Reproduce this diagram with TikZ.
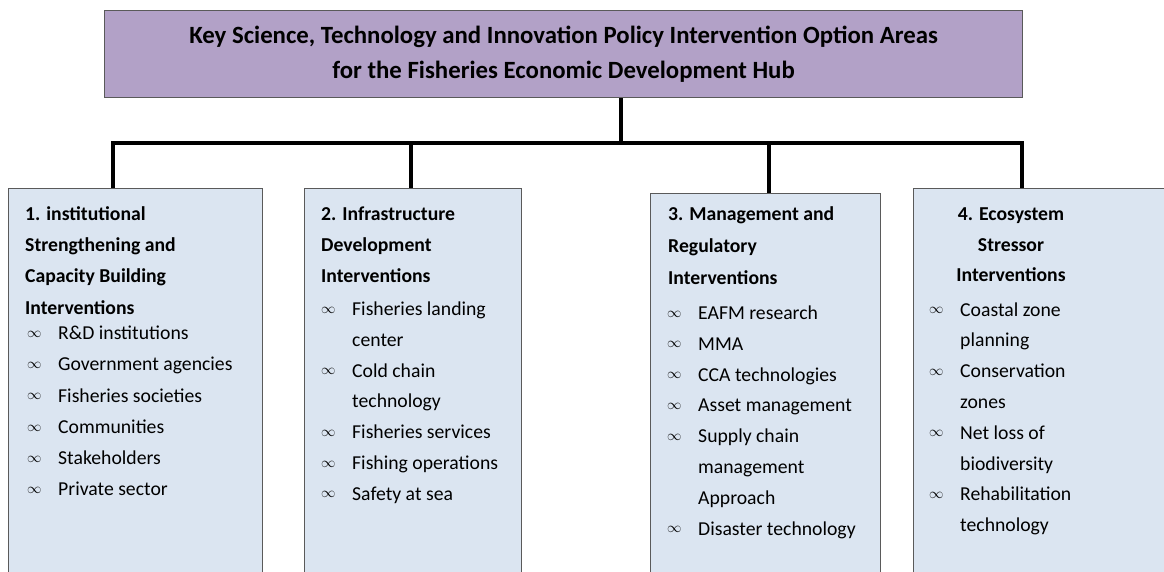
\documentclass[tikz,border=0pt]{standalone}
\usepackage{fontspec}
\setmainfont{Carlito}
\usepackage{tikz}

\definecolor{hubfill}{RGB}{178,161,199}
\definecolor{areafill}{RGB}{219,229,241}
\definecolor{boxline}{RGB}{90,90,90}

\newcommand{\itm}{\makebox[31pt][l]{\raisebox{2.3pt}{\fontsize{14}{14}\selectfont$\infty$}}}
\newcommand{\cnt}{\hspace*{31pt}}

\tikzset{
  hubbox/.style={draw=boxline,fill=hubfill,line width=1.2pt,inner sep=0pt,
    minimum width=918pt,minimum height=87pt,anchor=north west,align=center,
    font=\bfseries\fontsize{24.8}{35}\selectfont},
  areabox/.style={draw=boxline,fill=areafill,line width=1.2pt,inner sep=0pt,
    minimum height=430pt,anchor=north west},
  areatitle/.style={inner sep=0pt,anchor=base west,font=\bfseries\fontsize{19.7}{31}\selectfont},
  arealist/.style={inner sep=0pt,anchor=base west,font=\fontsize{19.7}{30.8}\selectfont},
  conn/.style={line width=4pt}
}

\begin{document}
\begin{tikzpicture}[x=1pt,y=-1pt]
\useasboundingbox (0,0) rectangle (1164,572);
\clip (0,0) rectangle (1164,572);

%Hub
  \node[hubbox] (hub) at (104,10) {Key Science, Technology and Innovation Policy Intervention Option Areas\\
    for the Fisheries Economic Development Hub};

%Area boxes
  \node[areabox,minimum width=254pt] (b1) at (8,188) {};
  \node[areabox,minimum width=217pt] (b2) at (304,188) {};
  \node[areabox,minimum width=230pt] (b3) at (650,193) {};
  \node[areabox,minimum width=262pt] (b4) at (913,188) {};

% tree
  \coordinate (j) at (621,143);
  \coordinate (k1) at (113,143);
  \coordinate (k2) at (411,143);
  \coordinate (k3) at (769,143);
  \coordinate (k4) at (1022,143);
  \draw[conn] (hub.south -| j) -- (j);
  \draw[conn] (b1.north -| k1) -- (k1) -- (k4) -- (b4.north -| k4);
  \draw[conn] (k2) -- (b2.north -| k2);
  \draw[conn] (k3) -- (b3.north -| k3);

%First area
  \node[areatitle] (t1) at (25,221) {\begin{tabular}[t]{@{}l@{}}
    1. institutional\\ Strengthening and\\ Capacity Building\\ Interventions\end{tabular}};
  \node[arealist,font=\fontsize{19.7}{31.3}\selectfont] (l1) at (27,339.4) {\begin{tabular}[t]{@{}l@{}}
    \itm R\&D institutions\\ \itm Government agencies\\ \itm Fisheries societies\\
    \itm Communities\\ \itm Stakeholders\\ \itm Private sector\end{tabular}};
%Second area
  \node[areatitle] (t2) at (321,221) {\begin{tabular}[t]{@{}l@{}}
    2. Infrastructure\\ Development\\ Interventions\end{tabular}};
  \node[arealist] (l2) at (321,315.4) {\begin{tabular}[t]{@{}l@{}}
    \itm Fisheries landing\\ \cnt center\\ \itm Cold chain\\ \cnt technology\\
    \itm Fisheries services\\ \itm Fishing operations\\ \itm Safety at sea\end{tabular}};
%Third area
  \node[areatitle,font=\bfseries\fontsize{19.7}{31.7}\selectfont] (t3) at (668,221) {\begin{tabular}[t]{@{}l@{}}
    3. Management and\\ Regulatory\\ Interventions\end{tabular}};
  \node[arealist] (l3) at (667,319.4) {\begin{tabular}[t]{@{}l@{}}
    \itm EAFM research\\ \itm MMA\\ \itm CCA technologies\\ \itm Asset management\\
    \itm Supply chain\\ \cnt management\\ \cnt Approach\\ \itm Disaster technology\end{tabular}};
%Fourth area
  \node[areatitle,anchor=base] (t4) at (1011,220) {\begin{tabular}[t]{@{}c@{}}
    4. Ecosystem\\ Stressor\\ Interventions\end{tabular}};
  \node[arealist] (l4) at (929,316) {\begin{tabular}[t]{@{}l@{}}
    \itm Coastal zone\\ \cnt planning\\ \itm Conservation\\ \cnt zones\\
    \itm Net loss of\\ \cnt biodiversity\\ \itm Rehabilitation\\ \cnt technology\end{tabular}};
\end{tikzpicture}
\end{document}
